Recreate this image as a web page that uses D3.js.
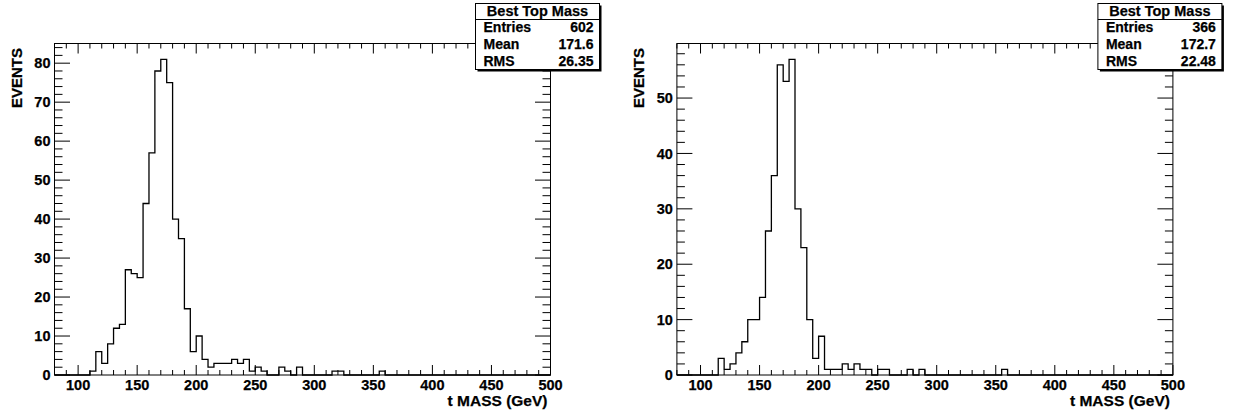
<!DOCTYPE html>
<html>
<head>
<meta charset="utf-8">
<script src="https://cdn.jsdelivr.net/npm/d3@7"></script>
<style>
	body { margin: 0; background: #fff; }
	svg text { font-family: "Liberation Sans", Arial, sans-serif; font-weight: bold; fill: #000; stroke: #000; stroke-width: 0.25px; }
</style>
</head>
<body>
<div id="chart"></div>
<script>
// 5 GeV bins from 80 to 500 GeV (84 bins)
var binEdges = [80, 500];
var binWidth = 5;

var countsLeft = [
	0, 0, 0, 0, 0, 0, 1, 6, 3, 8,
	12, 13, 27, 26, 25, 44, 57, 78, 81, 75,
	40, 35, 17, 6, 10, 4, 2, 3, 3, 3,
	4, 3, 4, 1, 2, 1, 0, 0, 2, 1,
	0, 2, 0, 0, 0, 0, 0, 1, 1, 0,
	0, 0, 0, 0, 0, 1, 0, 0, 0, 0,
	0, 0, 0, 0, 0, 0, 0, 0, 0, 0,
	0, 0, 0, 0, 0, 0, 0, 0, 0, 0,
	0, 0, 0, 0
];

var countsRight = [
	0, 0, 0, 0, 0, 0, 0, 3, 1, 2,
	4, 6, 10, 10, 14, 26, 36, 56, 53, 57,
	30, 23, 10, 3, 7, 1, 1, 1, 2, 1,
	2, 1, 1, 0, 1, 1, 0, 0, 0, 1,
	0, 1, 0, 0, 0, 0, 0, 0, 0, 0,
	0, 0, 0, 0, 0, 1, 0, 0, 0, 0,
	0, 0, 0, 0, 0, 0, 0, 0, 0, 0,
	0, 0, 0, 0, 0, 0, 0, 0, 0, 0,
	0, 0, 0, 0
];

var xLabels = [100, 150, 200, 250, 300, 350, 400, 450, 500];
var yLabelsLeft = [0, 10, 20, 30, 40, 50, 60, 70, 80];
var yLabelsRight = [0, 10, 20, 30, 40, 50];

var statNames = ['Entries', 'Mean', 'RMS'];
var statsLeft = ['602', '171.6', '26.35'];
var statsRight = ['366', '172.7', '22.48'];

var histTitle = 'Best Top Mass';
var xTitle = 't MASS (GeV)';
var yTitle = 'EVENTS';

var width = 1234;
var height = 417;

var svg = d3.select('#chart')
	.append('svg')
	.attr('width', width)
	.attr('height', height);

drawPad(svg.append('g'), 0, countsLeft, yLabelsLeft, statsLeft);
drawPad(svg.append('g'), 622.4, countsRight, yLabelsRight, statsRight);

function drawPad(g, offset, counts, yLabels, stats) {
	var frame = { left: 54.5 + offset, right: 550.5 + offset, top: 43.5, bottom: 375 };

	var x = d3.scaleLinear()
		.domain(binEdges)
		.range([frame.left, frame.right]);

	var y = d3.scaleLinear()
		.domain([0, d3.max(counts) * 1.05])
		.range([frame.bottom, frame.top]);

	// frame
	g.append('rect')
		.attr('x', frame.left)
		.attr('y', frame.top)
		.attr('width', frame.right - frame.left)
		.attr('height', frame.bottom - frame.top)
		.attr('fill', 'none')
		.attr('stroke', '#000')
		.attr('stroke-width', 1);

	// x ticks, bottom and top
	var xMinor = d3.range(binEdges[0], binEdges[1] + 1, 10);
	var ticks = g.append('g').attr('stroke', '#000').attr('stroke-width', 1);
	xMinor.forEach(function(v) {
		var len = (v % 50 === 0) ? 10 : 5;
		ticks.append('line')
			.attr('x1', x(v)).attr('x2', x(v))
			.attr('y1', frame.bottom).attr('y2', frame.bottom - len);
		ticks.append('line')
			.attr('x1', x(v)).attr('x2', x(v))
			.attr('y1', frame.top).attr('y2', frame.top + len);
	});

	// y ticks, left and right
	var yMinor = d3.range(0, y.domain()[1], 2);
	yMinor.forEach(function(v) {
		var len = (v % 10 === 0) ? 15.5 : 8;
		ticks.append('line')
			.attr('x1', frame.left).attr('x2', frame.left + len)
			.attr('y1', y(v)).attr('y2', y(v));
		ticks.append('line')
			.attr('x1', frame.right).attr('x2', frame.right - len)
			.attr('y1', y(v)).attr('y2', y(v));
	});

	g.selectAll('.xlabel')
		.data(xLabels)
		.enter()
		.append('text')
		.attr('class', 'xlabel')
		.attr('x', function(d) { return x(d); })
		.attr('y', 389.5)
		.attr('text-anchor', 'middle')
		.style('font-size', '14.5px')
		.text(function(d) { return d; });

	g.selectAll('.ylabel')
		.data(yLabels)
		.enter()
		.append('text')
		.attr('class', 'ylabel')
		.attr('x', frame.left - 4)
		.attr('y', function(d) { return y(d); })
		.attr('dy', '0.36em')
		.attr('text-anchor', 'end')
		.style('font-size', '14.5px')
		.text(function(d) { return d; });

	g.append('text')
		.attr('x', frame.right - 3)
		.attr('y', 406)
		.attr('text-anchor', 'end')
		.style('font-size', '15.5px')
		.text(xTitle);

	g.append('text')
		.attr('transform', 'translate(' + (21.5 + offset) + ',48) rotate(-90)')
		.attr('text-anchor', 'end')
		.style('font-size', '15px')
		.text(yTitle);

	// histogram outline
	var pts = counts.map(function(c, i) { return [binEdges[0] + i * binWidth, c]; });
	pts.push([binEdges[1], counts[counts.length - 1]]);

	var line = d3.line()
		.x(function(d) { return x(d[0]); })
		.y(function(d) { return y(d[1]); })
		.curve(d3.curveStepAfter);

	g.append('path')
		.attr('d', line(pts))
		.attr('fill', 'none')
		.attr('stroke', '#000')
		.attr('stroke-width', 1.3);

	// stats box
	var box = { x: 475.5 + offset, y: 3.5, w: 124, h: 66 };
	g.append('rect')
		.attr('x', box.x + 2)
		.attr('y', box.y + 2)
		.attr('width', box.w)
		.attr('height', box.h)
		.attr('fill', '#000');
	g.append('rect')
		.attr('x', box.x)
		.attr('y', box.y)
		.attr('width', box.w)
		.attr('height', box.h)
		.attr('fill', '#fff')
		.attr('stroke', '#000')
		.attr('stroke-width', 1);
	g.append('line')
		.attr('x1', box.x).attr('x2', box.x + box.w)
		.attr('y1', 19.5).attr('y2', 19.5)
		.attr('stroke', '#000');

	g.append('text')
		.attr('x', box.x + box.w / 2)
		.attr('y', 16)
		.attr('text-anchor', 'middle')
		.style('font-size', '14.5px')
		.text(histTitle);

	var rowY = [32.3, 49, 65.5];
	statNames.forEach(function(name, i) {
		g.append('text')
			.attr('x', box.x + 8)
			.attr('y', rowY[i])
			.style('font-size', '14px')
			.text(name);
		g.append('text')
			.attr('x', box.x + box.w - 6)
			.attr('y', rowY[i])
			.attr('text-anchor', 'end')
			.style('font-size', '14px')
			.text(stats[i]);
	});
}
</script>
</body>
</html>
